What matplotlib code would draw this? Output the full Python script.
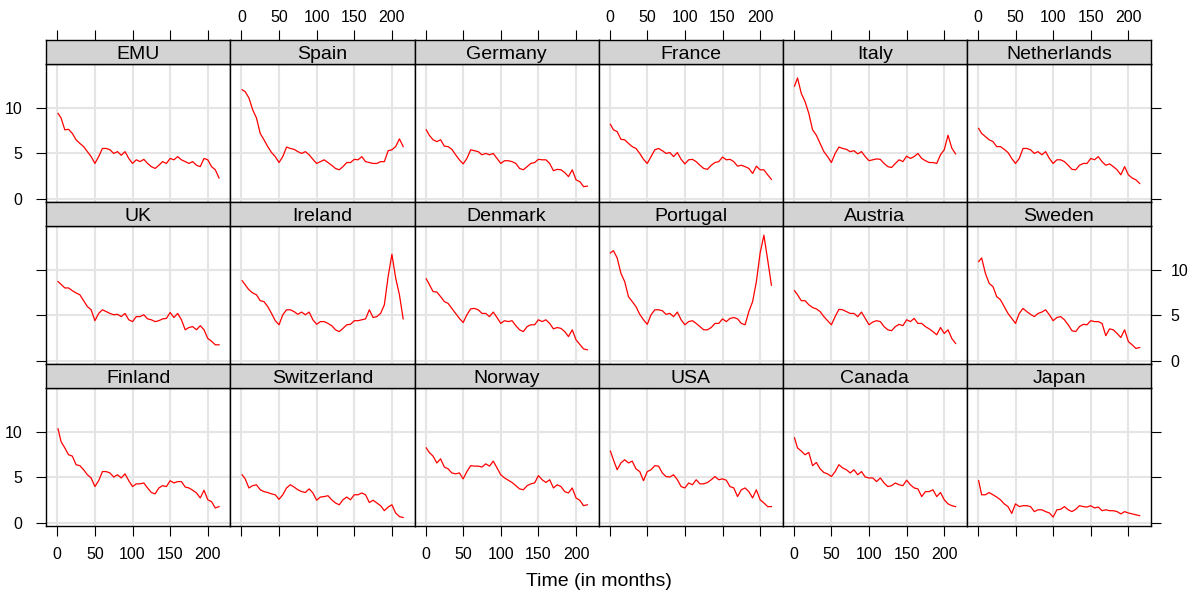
import matplotlib
matplotlib.use("Agg")
import matplotlib.pyplot as plt

plt.rcParams['font.family'] = ['Liberation Sans', 'DejaVu Sans']

months = [1] + list(range(5, 216, 5))

# long-term interest rates (%) per country
emu = [9.4, 8.9, 7.6, 7.65, 7.2, 6.5, 6.1, 5.75, 5.2, 4.65, 3.9, 4.65, 5.55, 5.55, 5.4, 5.0, 5.2, 4.8, 5.2, 4.45, 3.9, 4.3,
       4.1, 4.35, 3.9, 3.55, 3.35, 3.7, 4.1, 3.9, 4.45, 4.3, 4.65, 4.3, 4.1, 3.9, 4.1, 3.7, 3.55, 4.45, 4.3, 3.55, 3.2, 2.3]
spain = [12.0, 11.8, 11.1, 9.8, 8.9, 7.2, 6.5, 5.75, 5.1, 4.65, 4.0, 4.65, 5.7, 5.55, 5.45, 5.2, 5.0, 5.2, 4.85, 4.35, 3.9,
         4.1, 4.3, 4.0, 3.7, 3.35, 3.2, 3.55, 4.0, 4.0, 4.35, 4.3, 4.65, 4.1, 4.0, 3.9, 3.9, 4.1, 4.1, 5.3, 5.4, 5.75, 6.6, 5.75]
germany = [7.6, 7.0, 6.5, 6.3, 6.5, 5.8, 5.75, 5.45, 4.85, 4.3, 3.85, 4.45, 5.4, 5.3, 5.2, 4.85, 5.0, 4.85, 5.0, 4.45, 3.9,
           4.2, 4.2, 4.1, 3.9, 3.35, 3.2, 3.55, 3.9, 4.0, 4.35, 4.3, 4.3, 3.9, 3.1, 3.25, 3.2, 2.9, 2.45, 3.2, 2.1, 1.9, 1.35, 1.4]
france = [8.2, 7.6, 7.4, 6.55, 6.5, 6.1, 5.75, 5.55, 5.0, 4.35, 3.9, 4.65, 5.4, 5.55, 5.3, 5.0, 5.1, 4.65, 5.1, 4.35, 3.85,
          4.3, 4.35, 4.1, 3.7, 3.35, 3.25, 3.7, 4.0, 4.1, 4.6, 4.3, 4.35, 4.1, 3.6, 3.7, 3.55, 3.35, 2.8, 3.6, 3.2, 3.2, 2.65, 2.15]
italy = [12.4, 13.3, 11.6, 10.7, 9.4, 7.6, 7.0, 6.1, 5.2, 4.65, 4.0, 5.0, 5.7, 5.55, 5.45, 5.2, 5.3, 4.95, 5.2, 4.65, 4.2,
         4.3, 4.4, 4.35, 3.9, 3.55, 3.45, 3.9, 4.3, 4.1, 4.7, 4.45, 4.65, 5.0, 4.45, 4.2, 4.0, 4.0, 3.9, 4.85, 5.4, 7.0, 5.6, 4.95]
netherlands = [7.75, 7.2, 6.85, 6.5, 6.3, 5.75, 5.75, 5.45, 5.1, 4.45, 3.9, 4.45, 5.55, 5.55, 5.4, 5.0, 5.2, 4.85, 5.2, 4.45,
               3.9, 4.3, 4.3, 4.1, 3.7, 3.25, 3.2, 3.7, 3.9, 3.9, 4.45, 4.3, 4.65, 4.1, 3.7, 3.85, 3.55, 3.2, 2.65, 3.55, 2.65,
               2.3, 2.1, 1.7]
uk = [8.7, 8.4, 8.0, 8.0, 7.7, 7.45, 7.25, 6.6, 5.95, 5.6, 4.4, 5.2, 5.6, 5.4, 5.2, 5.05, 5.1, 4.85, 5.2, 4.5, 4.3, 4.85,
      4.85, 5.05, 4.6, 4.5, 4.3, 4.4, 4.6, 4.65, 5.3, 4.75, 5.2, 4.5, 3.4, 3.65, 3.75, 3.4, 3.85, 3.4, 2.45, 2.15, 1.75, 1.75]
ireland = [8.8, 8.35, 7.8, 7.45, 7.25, 6.6, 6.5, 5.95, 5.2, 4.4, 3.95, 5.05, 5.6, 5.6, 5.4, 5.1, 5.35, 5.05, 5.35, 4.5, 4.0,
           4.3, 4.3, 4.1, 3.85, 3.4, 3.2, 3.55, 3.95, 4.0, 4.4, 4.4, 4.5, 4.6, 5.6, 4.75, 4.85, 5.2, 6.15, 9.25, 11.7, 9.1,
           7.25, 4.6]
denmark = [9.0, 8.4, 7.6, 7.55, 7.05, 6.5, 6.3, 5.75, 5.2, 4.65, 4.2, 5.05, 5.7, 5.75, 5.6, 5.2, 5.2, 4.85, 5.35, 4.75, 4.1,
           4.4, 4.3, 4.4, 3.85, 3.4, 3.2, 3.75, 3.95, 3.95, 4.5, 4.3, 4.5, 4.1, 3.5, 3.65, 3.55, 3.2, 2.65, 3.4, 2.3, 1.8, 1.3, 1.2]
portugal = [11.85, 12.1, 11.3, 9.6, 8.7, 7.05, 6.5, 5.95, 5.1, 4.5, 4.0, 5.05, 5.6, 5.6, 5.5, 5.1, 5.2, 4.85, 5.35, 4.5, 3.95,
            4.3, 4.4, 4.1, 3.75, 3.4, 3.4, 3.65, 4.1, 4.1, 4.6, 4.3, 4.65, 4.75, 4.6, 4.1, 3.95, 5.4, 6.5, 8.7, 11.85, 13.8,
            11.1, 8.3]
austria = [7.7, 7.25, 6.6, 6.6, 6.15, 5.85, 5.7, 5.4, 4.85, 4.4, 3.95, 4.85, 5.65, 5.6, 5.4, 5.2, 5.2, 4.85, 5.35, 4.65, 3.95,
           4.25, 4.4, 4.3, 3.75, 3.4, 3.3, 3.75, 4.0, 3.85, 4.5, 4.3, 4.65, 4.1, 4.1, 3.75, 3.5, 3.2, 2.85, 3.65, 3.0, 3.4, 2.45,
           1.9]
sweden = [10.9, 11.3, 9.6, 8.5, 8.15, 7.05, 6.7, 5.95, 5.2, 4.65, 4.1, 5.2, 5.75, 5.4, 5.1, 4.85, 5.2, 5.35, 5.6, 5.05, 4.4,
          4.75, 4.85, 4.5, 3.95, 3.3, 3.2, 3.75, 4.0, 3.95, 4.4, 4.3, 4.3, 4.1, 2.75, 3.5, 3.4, 3.0, 2.55, 3.4, 2.1, 1.75, 1.35,
          1.45]
finland = [10.3, 8.9, 8.2, 7.45, 7.3, 6.35, 6.25, 5.8, 5.25, 4.9, 3.95, 4.6, 5.6, 5.6, 5.45, 5.0, 5.25, 4.9, 5.35, 4.6, 3.95,
           4.25, 4.25, 4.35, 3.8, 3.3, 3.15, 3.8, 4.05, 3.95, 4.6, 4.35, 4.5, 4.5, 3.9, 3.8, 3.55, 3.25, 2.7, 3.55, 2.5, 2.3, 1.6,
           1.75]
switzerland = [5.25, 4.8, 3.8, 4.05, 4.15, 3.6, 3.4, 3.3, 3.15, 3.05, 2.55, 3.05, 3.8, 4.15, 3.9, 3.6, 3.4, 3.3, 3.7, 3.25,
               2.45, 2.8, 2.85, 2.95, 2.5, 2.15, 1.95, 2.5, 2.8, 2.5, 3.05, 3.05, 3.25, 3.05, 2.2, 2.45, 2.15, 1.85, 1.3, 1.7,
               1.95, 1.05, 0.65, 0.55]
norway = [8.2, 7.7, 7.3, 6.55, 7.0, 6.1, 5.9, 5.45, 5.35, 5.45, 4.8, 5.6, 6.25, 6.2, 6.2, 6.1, 6.45, 6.2, 6.75, 6.0, 5.25, 4.9,
          4.65, 4.4, 4.05, 3.7, 3.6, 4.05, 4.25, 4.35, 5.15, 4.7, 4.4, 4.7, 3.8, 4.15, 3.95, 3.4, 3.25, 3.8, 2.7, 2.45, 1.85, 1.95]
usa = [7.85, 6.9, 5.8, 6.55, 6.9, 6.55, 6.75, 5.9, 5.6, 4.6, 5.6, 5.8, 6.25, 6.2, 5.45, 5.05, 5.0, 5.25, 4.7, 3.95, 3.8, 4.35,
       4.15, 4.7, 4.25, 4.25, 4.4, 4.7, 5.05, 4.7, 4.8, 4.65, 3.95, 3.8, 2.85, 3.6, 3.8, 3.4, 2.7, 3.6, 2.5, 2.15, 1.75, 1.75]
canada = [9.3, 8.2, 7.85, 7.45, 7.7, 6.25, 6.6, 5.9, 5.5, 5.35, 5.05, 5.6, 6.35, 6.0, 5.8, 5.45, 5.8, 5.25, 5.6, 5.0, 4.9, 4.9,
          4.5, 4.9, 4.35, 3.95, 4.05, 4.35, 4.15, 4.05, 4.65, 4.15, 3.8, 3.7, 2.85, 3.4, 3.4, 3.6, 2.85, 3.3, 2.5, 2.05, 1.85, 1.75]
japan = [4.6, 3.05, 3.05, 3.3, 3.05, 2.8, 2.5, 2.05, 1.75, 1.0, 2.05, 1.75, 1.85, 1.85, 1.75, 1.2, 1.4, 1.4, 1.2, 1.05, 0.6,
         1.4, 1.45, 1.75, 1.4, 1.2, 1.45, 1.85, 1.75, 1.7, 1.85, 1.6, 1.7, 1.3, 1.4, 1.3, 1.3, 1.2, 0.95, 1.2, 1.05, 0.95, 0.85,
         0.75]

countries = ["EMU", "Spain", "Germany", "France", "Italy", "Netherlands",
             "UK", "Ireland", "Denmark", "Portugal", "Austria", "Sweden",
             "Finland", "Switzerland", "Norway", "USA", "Canada", "Japan"]
series = [emu, spain, germany, france, italy, netherlands,
          uk, ireland, denmark, portugal, austria, sweden,
          finland, switzerland, norway, usa, canada, japan]

xticks = [0, 50, 100, 150, 200]
yticks = [0, 5, 10]

W, H = 1194, 596
fig = plt.figure(figsize=(W / 100, H / 100), dpi=100)

# layout in pixels
left, top = 46.3, 40.3
pw, row_h, strip_h = 184.12, 161.8, 24.0
ph = row_h - strip_h


def box(x, y, w, h):
    return [x / W, 1 - (y + h) / H, w / W, h / H]


tick_kw = dict(direction='out', length=7, width=0.8, colors='black', labelsize=11.5)

for i, (name, vals) in enumerate(zip(countries, series)):
    r, c = divmod(i, 6)
    x0 = left + c * pw
    y0 = top + r * row_h

    ax = fig.add_axes(box(x0, y0 + strip_h, pw, ph))
    ax.plot(months, vals, color='red', lw=0.9)
    ax.set_xlim(-14.6, 230.1)
    ax.set_ylim(-0.35, 14.8)
    ax.set_xticks(xticks)
    ax.set_yticks(yticks)
    ax.grid(True, color='#e5e5e5', lw=1.5)
    ax.set_axisbelow(True)
    for s in ax.spines.values():
        s.set_linewidth(1.0)
    ax.tick_params(axis='x', pad=8, **tick_kw)
    ax.tick_params(axis='y', pad=7, **tick_kw)
    ax.tick_params(top=False, labeltop=False,
                   bottom=(r == 2), labelbottom=(r == 2 and c % 2 == 0),
                   left=(c == 0), labelleft=(c == 0 and r != 1),
                   right=(c == 5), labelright=(c == 5 and r == 1))
    for lab in ax.get_yticklabels():
        lab.set_x(-0.025) if c == 0 else None

    sax = fig.add_axes(box(x0, y0, pw, strip_h))
    sax.set_facecolor('#d3d3d3')
    sax.set_xlim(-14.6, 230.1)
    sax.set_ylim(0, 1)
    sax.set_yticks([])
    sax.set_xticks(xticks)
    for s in sax.spines.values():
        s.set_linewidth(1.0)
    sax.tick_params(axis='x', pad=4, **tick_kw)
    sax.tick_params(bottom=False, labelbottom=False,
                    top=(r == 0), labeltop=(r == 0 and c % 2 == 1))
    sax.text(0.5, 0.4, name, transform=sax.transAxes, ha='center', va='center', fontsize=14)

fig.text(598.7 / W, 1 - 582 / H, "Time (in months)", ha='center', va='center', fontsize=14)

fig.savefig("out.png", dpi=100)
